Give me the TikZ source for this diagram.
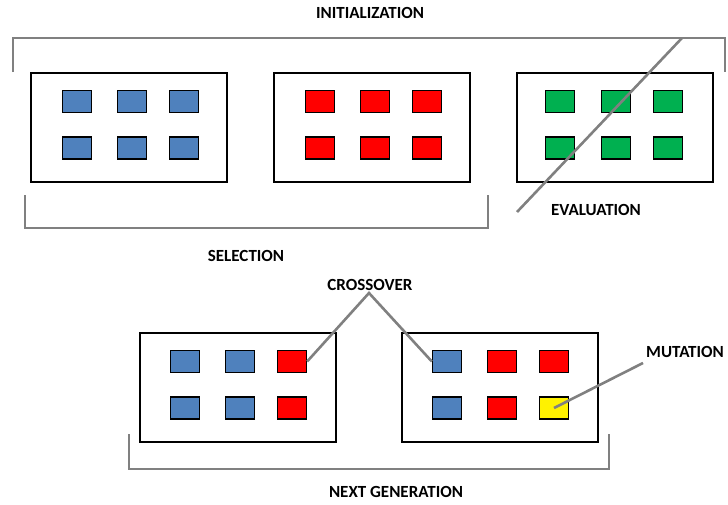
\documentclass[tikz,border=0pt]{standalone}
\usepackage{fontspec}
\setmainfont{Carlito}
\definecolor{geneblue}{RGB}{79,129,189}
\definecolor{genegreen}{RGB}{0,176,80}
\definecolor{linegray}{RGB}{128,128,128}

\begin{document}
\begin{tikzpicture}[x=1pt,y=-1pt,
  pop node/.style={draw,line width=2.4pt,minimum width=196pt,minimum height=109pt,inner sep=0pt},
  gene/.style={draw,line width=1.3pt,minimum width=29pt,minimum height=22pt,inner sep=0pt},
  label node/.style={font=\bfseries\fontsize{17}{19}\selectfont,inner sep=0pt},
  bracket/.style={linegray,line width=2.6pt},
  pointer/.style={linegray,line width=2.6pt}]

  \useasboundingbox (0,0) rectangle (728,504);

  % populations
  \node[pop node] (p1) at (129,127.5) {};
  \node[pop node] (p2) at (372,127.5) {};
  \node[pop node] (p3) at (615,127.5) {};
  \node[pop node] (p4) at (238,387.5) {};
  \node[pop node] (p5) at (500,387.5) {};

  % initial population
  \node[gene,fill=geneblue] (a1) at (77,101.5) {};
  \node[gene,fill=geneblue] (a2) at (132,101.5) {};
  \node[gene,fill=geneblue] (a3) at (184,101.5) {};
  \node[gene,fill=geneblue] (a4) at (77,148) {};
  \node[gene,fill=geneblue] (a5) at (132,148) {};
  \node[gene,fill=geneblue] (a6) at (184,148) {};

  \node[gene,fill=red] (b1) at (320,101.5) {};
  \node[gene,fill=red] (b2) at (375,101.5) {};
  \node[gene,fill=red] (b3) at (427,101.5) {};
  \node[gene,fill=red] (b4) at (320,148) {};
  \node[gene,fill=red] (b5) at (375,148) {};
  \node[gene,fill=red] (b6) at (427,148) {};

  \node[gene,fill=genegreen] (c1) at (560,101.5) {};
  \node[gene,fill=genegreen] (c2) at (616,101.5) {};
  \node[gene,fill=genegreen] (c3) at (668,101.5) {};
  \node[gene,fill=genegreen] (c4) at (560,148) {};
  \node[gene,fill=genegreen] (c5) at (616,148) {};
  \node[gene,fill=genegreen] (c6) at (668,148) {};

  % offspring
  \node[gene,fill=geneblue] (d1) at (185,361.5) {};
  \node[gene,fill=geneblue] (d2) at (240,361.5) {};
  \node[gene,fill=red] (d3) at (292,361.5) {};
  \node[gene,fill=geneblue] (d4) at (185,408) {};
  \node[gene,fill=geneblue] (d5) at (240,408) {};
  \node[gene,fill=red] (d6) at (292,408) {};

  \node[gene,fill=geneblue] (e1) at (447,361.5) {};
  \node[gene,fill=red] (e2) at (502,361.5) {};
  \node[gene,fill=red] (e3) at (554,361.5) {};
  \node[gene,fill=geneblue] (e4) at (447,408) {};
  \node[gene,fill=red] (e5) at (502,408) {};
  \node[gene,fill=yellow] (e6) at (554,408) {};

  % labels
  \node[label node] (init) at (370,13) {INITIALIZATION};
  \node[label node] (sel) at (246,256) {SELECTION};
  \node[label node] (eval) at (596,210) {EVALUATION};
  \node[label node] (cross) at (370,285) {CROSSOVER};
  \node[label node,anchor=west] (mut) at (646,352) {MUTATION};
  \node[label node] (next) at (396,492) {NEXT GENERATION};

  % brackets
  \draw[bracket] (13,72) -- (13,38) -- (725,38) -- (725,72);
  \draw[bracket] (25,195) -- (25,228) -- (488,228) -- (488,195);
  \draw[bracket] (129,434) -- (129,469) -- (609,469) -- (609,434);

  % pointers
  \coordinate (evaltop) at (682,38);
  \coordinate (evalend) at (517,212);
  \coordinate (crosstip) at (369,293);
  \coordinate (muttip) at (643,363);
  \draw[pointer] (evaltop) -- (evalend);
  \draw[pointer] (d3.east) -- (crosstip) -- (e1.west);
  \draw[pointer] (muttip) -- (e6.center);
\end{tikzpicture}
\end{document}
